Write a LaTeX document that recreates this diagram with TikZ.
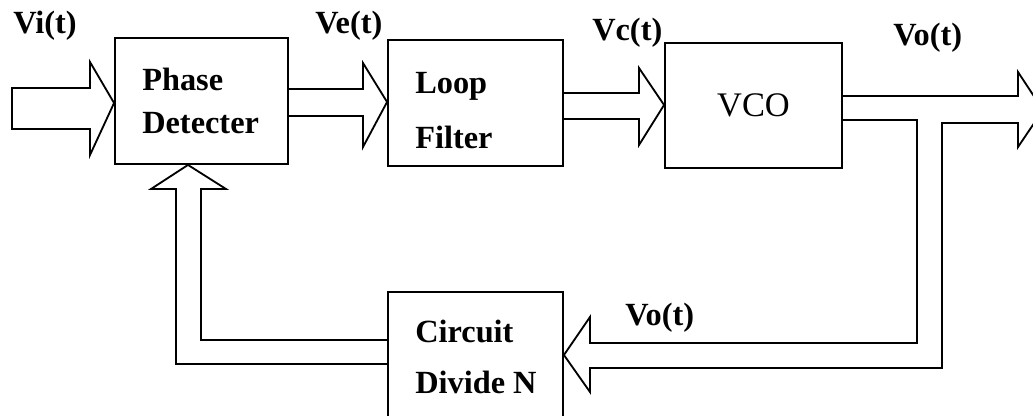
\documentclass[tikz,border=0pt]{standalone}
\usepackage{fontspec}
\setmainfont{Liberation Serif}

\tikzset{
	blk/.style={draw, line width=1.3pt, inner sep=0pt},
	lbl/.style={font=\fontsize{23}{27}\selectfont\bfseries, inner sep=0pt, anchor=base west},
	pipe/.style={draw, line width=1.3pt, line join=miter}
}

\begin{document}
\begin{tikzpicture}[x=0.025cm, y=-0.025cm]
		\useasboundingbox (0,0) rectangle (1033,415);

		\node[blk, minimum width=4.325cm, minimum height=3.15cm] (pd) at (201.5,101) {};
		\node[blk, minimum width=4.375cm, minimum height=3.15cm] (lf) at (475.5,103) {};
		\node[blk, minimum width=4.425cm, minimum height=3.125cm, font=\fontsize{24.5}{28}\selectfont] (vco) at (753.5,105.5) {VCO};
		\node[blk, minimum width=4.375cm, minimum height=3.15cm] (div) at (475.5,355) {};

		\node[lbl] (pdA) at (142,90) {Phase};
		\node[lbl] (pdB) at (142,133) {Detecter};
		\node[lbl] (lfA) at (415,93) {Loop};
		\node[lbl] (lfB) at (415,148) {Filter};
		\node[lbl] (divA) at (415,342) {Circuit};
		\node[lbl] (divB) at (415,393) {Divide N};

		\node[lbl] (vi) at (13,33) {Vi(t)};
		\node[lbl] (ve) at (315,33) {Ve(t)};
		\node[lbl] (vc) at (592,40) {Vc(t)};
		\node[lbl] (vo) at (893,45) {Vo(t)};
		\node[lbl] (vofb) at (625,325) {Vo(t)};

		\coordinate (out) at (1043,110);

		\draw[pipe] (12,88) -- (90,88) -- (90,62) -- (pd.west |- 0,103) -- (90,155) -- (90,129) -- (12,129) -- cycle;
		\draw[pipe] (pd.east |- 0,89) -- (363,89) -- (363,63) -- (lf.west |- 0,102) -- (363,147) -- (363,116) -- (pd.east |- 0,116);
		\draw[pipe] (lf.east |- 0,93) -- (639,93) -- (639,68) -- (vco.west |- 0,105) -- (639,145) -- (639,119) -- (lf.east |- 0,119);
		\draw[pipe] (vco.east |- 0,96) -- (1018,96) -- (1018,72) -- (out) -- (1018,147) -- (1018,123) -- (942,123) -- (942,368) -- (590,368) -- (590,392) -- (div.east |- 0,355) -- (590,317) -- (590,343) -- (917,343) -- (917,120) -- (vco.east |- 0,120);
		\draw[pipe] (div.west |- 0,340) -- (201,340) -- (201,189) -- (226,189) -- (188,0 |- pd.south) -- (151,189) -- (176,189) -- (176,364) -- (div.west |- 0,364);

\end{tikzpicture}
\end{document}
